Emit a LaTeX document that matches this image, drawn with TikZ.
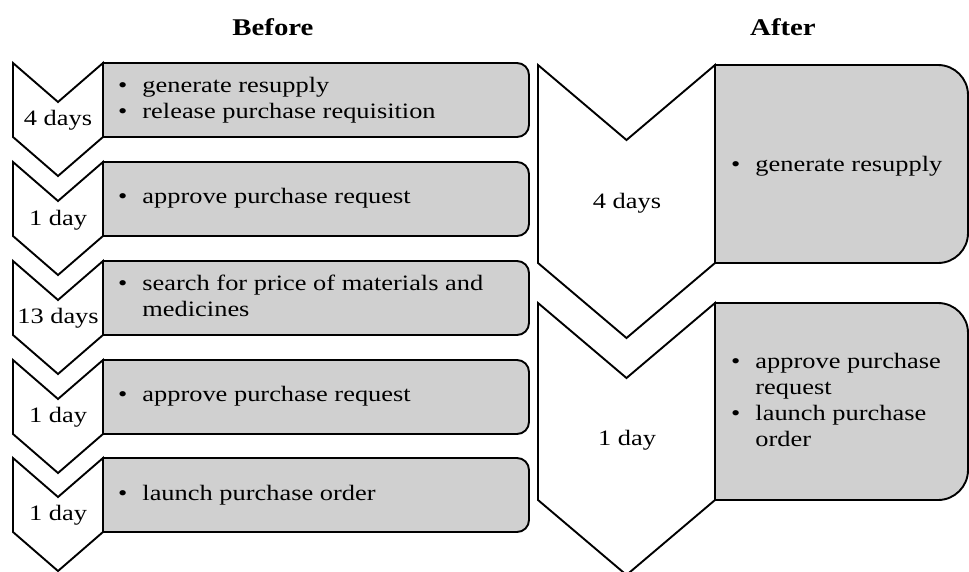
\documentclass[tikz,border=0pt]{standalone}
\usepackage{fontspec}
\setmainfont{Liberation Serif}[FakeStretch=1.2]
\definecolor{boxgray}{HTML}{D0D0D0}
\newcommand\mychev[5]{%
  \draw[chev] (#1,#2) -- ({#1+#3/2},{#2+#5}) -- ({#1+#3},#2) -- ({#1+#3},{#2+#4})
    -- ({#1+#3/2},{#2+#4+#5}) -- (#1,{#2+#4}) -- cycle;}
\newcommand\mybox[5]{%
  \draw[boxstyle] (#1,#2) [rounded corners=#5] -- (#3,#2) -- (#3,#4) [sharp corners] -- (#1,#4) -- cycle;}
\newcommand\itemrows[1]{\begin{tabular}{@{}l@{\hspace{15pt}}l@{}}#1\end{tabular}}
\begin{document}
\begin{tikzpicture}[x=1pt,y=-1pt,
  chev/.style={draw=black, line width=1.9pt, fill=white, line join=miter},
  boxstyle/.style={draw=black, line width=1.9pt, fill=boxgray},
  daylbl/.style={font=\fontsize{22}{26}\selectfont, inner sep=0pt, anchor=center},
  itemtxt/.style={font=\fontsize{22}{26}\selectfont, inner sep=0pt, anchor=west, align=left},
  title/.style={font=\fontsize{24}{28}\selectfont\bfseries, inner sep=0pt}]
\useasboundingbox (0,0) rectangle (969,571);
% titles
\node[title] (tb) at (273,27) {Before};
\node[title] (ta) at (783,27) {After};
% left column
\foreach \t in {63,162,261,360,458}{
  \mychev{13}{\t}{90}{74}{39}
  \mybox{103}{\t}{529}{\t+74}{12pt}
}
\node[daylbl] (d1) at (58,120) {4 days};
\node[daylbl] (d2) at (58,220) {1 day};
\node[daylbl] (d3) at (58,318) {13 days};
\node[daylbl] (d4) at (58,417) {1 day};
\node[daylbl] (d5) at (58,515) {1 day};
\node[itemtxt] (b1) at (118,100) {\itemrows{•&generate resupply\\ •&release purchase requisition}};
\node[itemtxt] (b2) at (118,198) {\itemrows{•&approve purchase request}};
\node[itemtxt] (b3) at (118,298) {\itemrows{•&search for price of materials and\\ &medicines}};
\node[itemtxt] (b4) at (118,396) {\itemrows{•&approve purchase request}};
\node[itemtxt] (b5) at (118,495) {\itemrows{•&launch purchase order}};
% right column
\mychev{538}{65}{177}{198}{75}
\mybox{715}{65}{968}{263}{30pt}
\mychev{538}{303}{177}{197}{75}
\mybox{715}{303}{968}{500}{30pt}
\node[daylbl] (r1) at (627,203) {4 days};
\node[daylbl] (r2) at (627,440) {1 day};
\node[itemtxt] (rb1) at (731,166) {\itemrows{•&generate resupply}};
\node[itemtxt] (rb2) at (731,402) {\itemrows{•&approve purchase\\ &request\\ •&launch purchase\\ &order}};
\end{tikzpicture}
\end{document}
